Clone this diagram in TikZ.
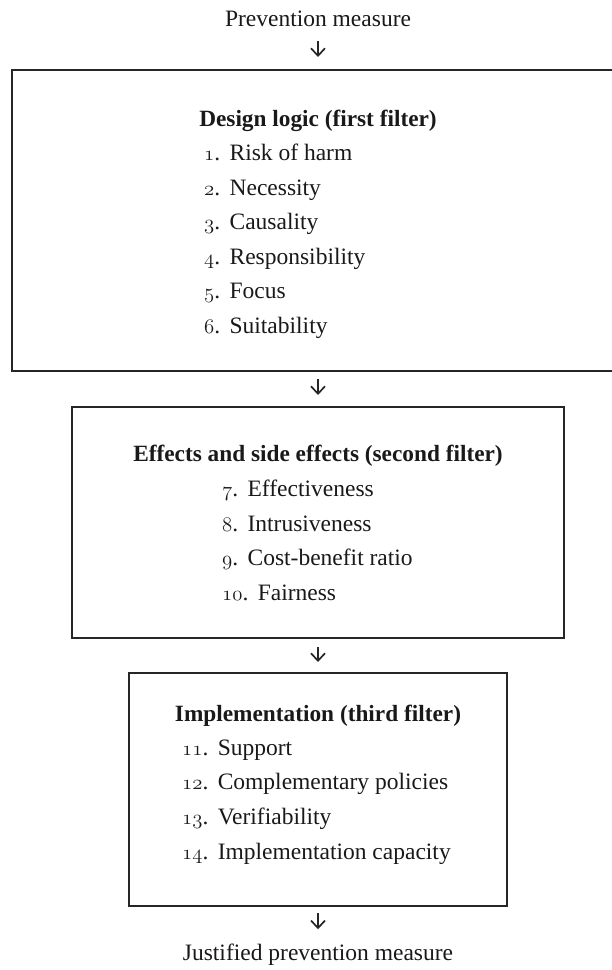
\documentclass[tikz,border=0pt]{standalone}
\usepackage{fontspec}
\setmainfont{Liberation Serif}
\usepackage{tikz}
\usetikzlibrary{arrows.meta}

\newcommand\oldnum[1]{{\fontsize{20.74}{24}\usefont{OML}{cmm}{m}{it}#1}}

\tikzset{
  filterbox/.style={draw=black!85, line width=2pt, rectangle},
  filtertitle/.style={font=\fontsize{23.3}{28}\selectfont\bfseries, text=black!90, inner sep=0pt, anchor=base},
  crit/.style={font=\fontsize{23.5}{28}\selectfont, text=black!90, inner sep=0pt, anchor=base west},
  plain/.style={font=\fontsize{23.5}{28}\selectfont, text=black!90, inner sep=0pt, anchor=base},
  flow/.style={-{Straight Barb[length=7.5pt,width=14pt]}, line width=1.7pt, black!85}
}

\begin{document}
\begin{tikzpicture}[x=1pt, y=-1pt]
    \useasboundingbox (0,0) rectangle (611,970);
    % Nodes
	    \node (measure) [plain] at (318,26) {Prevention measure};
	    \node (design) [filterbox, minimum width=612pt, minimum height=301pt] at (318,220.5) {};
	    \node (designtitle) [filtertitle] at (318,126) {Design logic (first filter)};
	    \node (risk) [crit] at (204,160) {\oldnum{1}.\hspace{.4em}Risk of harm};
	    \node (necessity) [crit] at (204,195) {\oldnum{2}.\hspace{.4em}Necessity};
	    \node (causality) [crit] at (204,229) {\oldnum{3}.\hspace{.4em}Causality};
	    \node (responsibility) [crit] at (204,264) {\oldnum{4}.\hspace{.4em}Responsibility};
	    \node (focus) [crit] at (204,298) {\oldnum{5}.\hspace{.4em}Focus};
	    \node (suitability) [crit] at (204,333) {\oldnum{6}.\hspace{.4em}Suitability};
	
	    \node (effects) [filterbox, minimum width=492pt, minimum height=231pt] at (318,522.5) {};
	    \node (effectstitle) [filtertitle] at (318,461) {Effects and side effects (second filter)};
	    \node (effectiveness) [crit] at (222,496) {\oldnum{7}.\hspace{.4em}Effectiveness};
	    \node (intrusiveness) [crit] at (222,531) {\oldnum{8}.\hspace{.4em}Intrusiveness};
	    \node (costbenefit) [crit] at (222,565) {\oldnum{9}.\hspace{.4em}Cost-benefit ratio};
	    \node (fairness) [crit] at (222,600) {\oldnum{10}.\hspace{.4em}Fairness};
	
	    \node (implement) [filterbox, minimum width=378pt, minimum height=233pt] at (318,789.5) {};
	    \node (implementtitle) [filtertitle] at (318,721) {Implementation (third filter)};
	    \node (support) [crit] at (182,755) {\oldnum{11}.\hspace{.4em}Support};
	    \node (complementary) [crit] at (182,789) {\oldnum{12}.\hspace{.4em}Complementary policies};
	    \node (verifiability) [crit] at (182,824) {\oldnum{13}.\hspace{.4em}Verifiability};
	    \node (capacity) [crit] at (182,859) {\oldnum{14}.\hspace{.4em}Implementation capacity};
	
	    \node (justified) [plain] at (318,960) {Justified prevention measure};
	
	    % Arrows
	    \draw[flow, shorten <=15pt, shorten >=12pt] (measure) -- (design);
	    \draw[flow, shorten <=7pt, shorten >=11pt] (design) -- (effects);
	    \draw[flow, shorten <=8pt, shorten >=10pt] (effects) -- (implement);
	    \draw[flow, shorten <=6pt, shorten >=14pt] (implement) -- (justified);
	\end{tikzpicture}
\end{document}
